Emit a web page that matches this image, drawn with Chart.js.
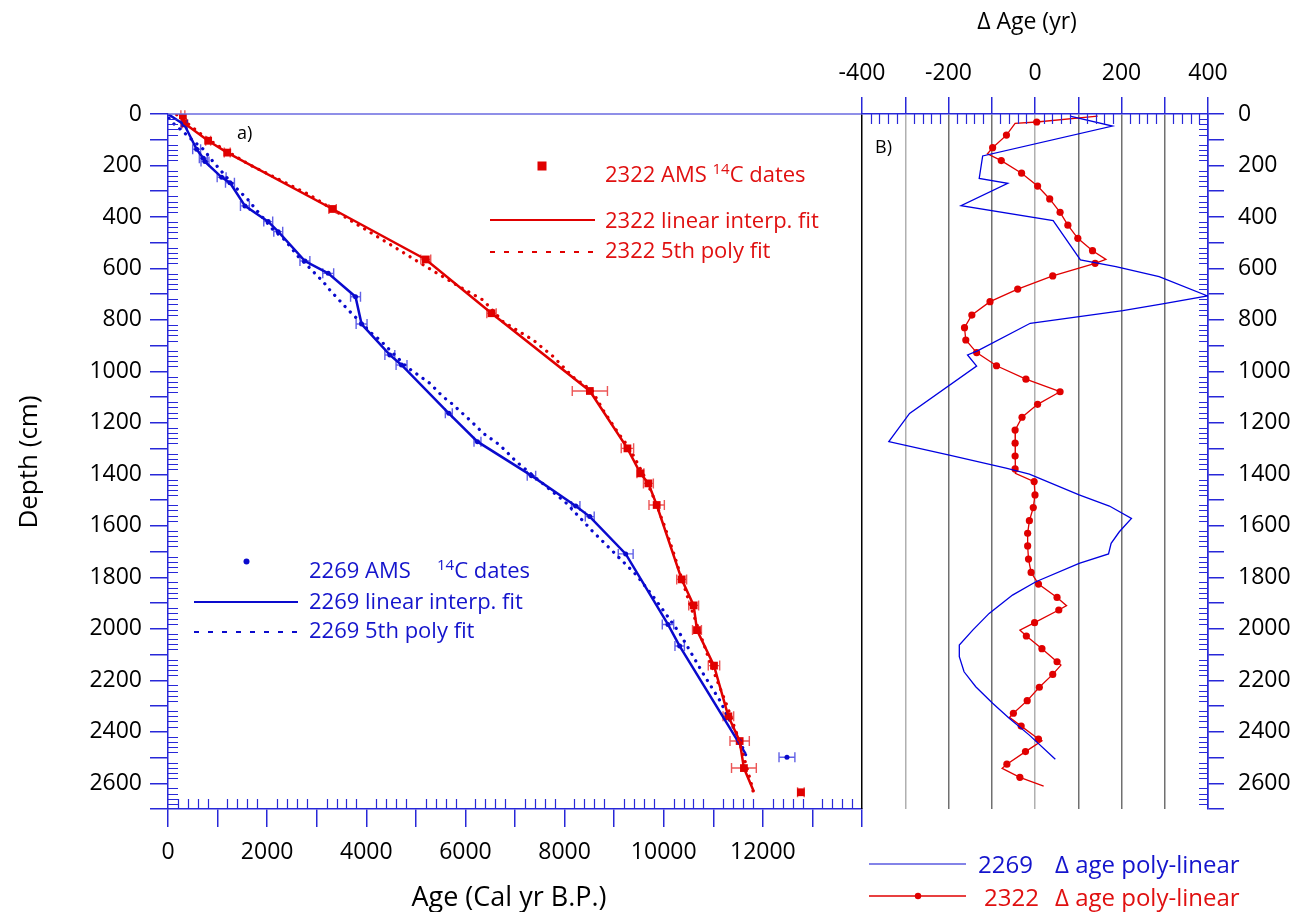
<!DOCTYPE html>
<html>
<head>
<meta charset="utf-8">
<script src="https://cdn.jsdelivr.net/npm/chart.js@4.4.0/dist/chart.umd.min.js"></script>
<style>
  body { margin: 0; background: #fff; font-family: "Open Sans", sans-serif; }
  #wrap { position: relative; width: 1302px; height: 912px; overflow: hidden; }
  canvas, svg { position: absolute; left: 0; top: 0; }
  .t { position: absolute; white-space: pre; line-height: 1; }
  .red { color: #e01010; font-size: 22px; }
  .blue { color: #1414cc; font-size: 22px; }
  sup { font-size: 15px; vertical-align: 8px; line-height: 0; }
</style>
</head>
<body>
<div id="wrap">
  <canvas id="ageChart" width="1302" height="912"></canvas>
  <canvas id="deltaChart" width="1302" height="912"></canvas>

  <!-- legend keys -->
  <svg width="1302" height="912">
    <rect x="537.5" y="161.5" width="9" height="9" fill="#e00000"/>
    <line x1="490" y1="220" x2="595" y2="220" stroke="#e00000" stroke-width="2"/>
    <line x1="490" y1="252" x2="595" y2="252" stroke="#e00000" stroke-width="2" stroke-dasharray="5 9"/>
    <circle cx="246.5" cy="561.5" r="3" fill="#0a0acd"/>
    <line x1="194" y1="602" x2="298" y2="602" stroke="#0a0acd" stroke-width="2"/>
    <line x1="194" y1="632" x2="298" y2="632" stroke="#0a0acd" stroke-width="2" stroke-dasharray="5 9"/>
    <line x1="869" y1="864" x2="966" y2="864" stroke="#5a5ae0" stroke-width="1.3"/>
    <line x1="869" y1="896" x2="966" y2="896" stroke="#e00000" stroke-width="1.3"/>
    <circle cx="918" cy="896" r="3.2" fill="#e00000"/>
  </svg>

  <div class="t red" style="left:605px;top:162px">2322 AMS <sup>14</sup>C dates</div>
  <div class="t red" style="left:605px;top:208px">2322 linear interp. fit</div>
  <div class="t red" style="left:605px;top:238px">2322 5th poly fit</div>

  <div class="t blue" style="left:309px;top:558px">2269 AMS</div>
  <div class="t blue" style="left:437px;top:558px"><sup>14</sup>C dates</div>
  <div class="t blue" style="left:309px;top:589px">2269 linear interp. fit</div>
  <div class="t blue" style="left:309px;top:618px">2269 5th poly fit</div>

  <div class="t blue" style="left:978px;top:852px;font-size:24px">2269</div>
  <div class="t blue" style="left:1055px;top:852px;font-size:24px">Δ age poly-linear</div>
  <div class="t red" style="left:984px;top:885px;font-size:24px">2322</div>
  <div class="t red" style="left:1055px;top:885px;font-size:24px">Δ age poly-linear</div>

  <div class="t" style="left:237px;top:123px;font-size:18px">a)</div>
  <div class="t" style="left:875px;top:137px;font-size:18px">B)</div>

  <div class="t" style="left:509px;top:895px;font-size:27px;transform:translate(-50%,-50%)">Age (Cal yr B.P.)</div>
  <div class="t" style="left:27px;top:462px;font-size:26px;transform:translate(-50%,-50%) rotate(-90deg)">Depth (cm)</div>
  <div class="t" style="left:1027px;top:20px;font-size:23px;transform:translate(-50%,-50%)">Δ Age (yr)</div>
</div>

<script>
// ---- core 2322: calibrated AMS 14C dates (age in cal yr BP, depth in cm) ----
var dates2322Age   = [300, 330, 810, 1195, 3320, 5200, 6526, 8510, 9268, 9530, 9691, 9858, 10362, 10604, 10671, 11014, 11304, 11532, 11618, 12767];
var dates2322Depth = [5, 36, 104, 150, 369, 565, 774, 1076, 1299, 1396, 1435, 1519, 1808, 1909, 2005, 2143, 2340, 2436, 2541, 2635];
var dates2322Err   = [40, 40, 50, 60, 75, 100, 95, 355, 125, 70, 100, 155, 100, 100, 90, 115, 107, 195, 250, 67];

// linear interpolation between the dates
var lin2322Age   = [300, 330, 810, 1195, 3320, 5200, 6526, 8510, 9268, 9530, 9691, 9858, 10362, 10604, 10671, 11014, 11304, 11532, 11618, 11820];
var lin2322Depth = [5, 36, 104, 150, 369, 565, 774, 1076, 1299, 1396, 1435, 1519, 1808, 1909, 2005, 2143, 2340, 2436, 2541, 2633];

// 5th order polynomial fit
var poly2322Age   = [175, 645, 982, 1316, 1653, 1990, 2863, 3669, 4340, 5046, 5820, 6357, 6760, 7365, 7774, 8165, 8560, 8776, 9078, 9314, 9590, 9820, 10015, 10190, 10355, 10520, 10700, 10880, 11075, 11280, 11460, 11620, 11765, 11800];
var poly2322Depth = [3, 75, 120, 159, 198, 230, 315, 412, 490, 574, 664, 723, 807, 878, 943, 1021, 1076, 1150, 1238, 1300, 1400, 1500, 1600, 1700, 1800, 1900, 2000, 2100, 2200, 2300, 2400, 2500, 2600, 2630];

// ---- core 2269 ----
var dates2269Age   = [330, 578, 712, 746, 1082, 1250, 1552, 2022, 2224, 2762, 3232, 3783, 3905, 4475, 4711, 5665, 6243, 7332, 8225, 8508, 9233, 10086, 10322, 12486];
var dates2269Depth = [42, 137, 172, 185, 246, 267, 357, 418, 457, 571, 619, 710, 816, 936, 975, 1163, 1273, 1405, 1523, 1564, 1709, 1983, 2067, 2499];
var dates2269Err   = [60, 80, 80, 80, 90, 90, 90, 90, 90, 100, 110, 100, 110, 100, 110, 70, 70, 85, 85, 90, 150, 115, 95, 160];

var lin2269Age   = [0, 330, 578, 712, 746, 1082, 1250, 1552, 2022, 2224, 2762, 3232, 3783, 3905, 4475, 4711, 5665, 6243, 7332, 8225, 8508, 9233, 10086, 10322, 11650];
var lin2269Depth = [0, 42, 137, 172, 185, 246, 267, 357, 418, 457, 571, 619, 710, 816, 936, 975, 1163, 1273, 1405, 1523, 1564, 1709, 1983, 2067, 2485];

var poly2269Age   = [20, 141, 308, 444, 732, 847, 1083, 1316, 1619, 1754, 2091, 2359, 2627, 2863, 3131, 3266, 3635, 4107, 4274, 4611, 4812, 5282, 5544, 5719, 6123, 6357, 6693, 7030, 7635, 8038, 8574, 8977, 9449, 9818, 10322, 10792, 11128, 11532, 11667];
var poly2269Depth = [16, 43, 69, 94, 140, 171, 224, 276, 334, 366, 444, 490, 554, 599, 652, 684, 761, 852, 878, 943, 982, 1046, 1098, 1124, 1195, 1240, 1286, 1351, 1448, 1512, 1623, 1700, 1791, 1882, 2017, 2173, 2277, 2432, 2497];

// ---- delta age (linear minus poly), yr ----
var delta2269Depth = [8, 47, 163, 250, 269, 356, 414, 567, 593, 632, 707, 738, 764, 813, 920, 936, 979, 1163, 1273, 1325, 1376, 1399, 1480, 1523, 1571, 1623, 1668, 1709, 1746, 1817, 1869, 1940, 2005, 2063, 2108, 2167, 2225, 2289, 2348, 2413, 2507];
var delta2269      = [81, 179, -121, -129, -63, -171, 42, 105, 187, 287, 399, 295, 203, -11, -133, -156, -135, -290, -338, -198, -67, -13, 102, 172, 223, 195, 176, 170, 102, 2, -52, -106, -144, -175, -175, -164, -137, -98, -59, -13, 47];

// 2322 sampled every ~50 cm
var delta2322Depth = [31, 82, 131, 181, 230, 280, 330, 382, 432, 483, 531, 580, 629, 680, 729, 781, 830, 878, 927, 978, 1030, 1079, 1128, 1178, 1228, 1279, 1329, 1379, 1428, 1480, 1529, 1580, 1629, 1678, 1729, 1781, 1826, 1878, 1927, 1976, 2028, 2077, 2128, 2177, 2227, 2279, 2328, 2378, 2428, 2477, 2526, 2577];
var delta2322      = [4, -66, -98, -78, -31, 6, 34, 58, 76, 99, 133, 139, 41, -40, -104, -146, -163, -160, -135, -89, -21, 58, 6, -30, -46, -46, -46, -46, -2, 0, -4, -13, -17, -17, -15, -9, 8, 51, 55, -1, -20, 16, 51, 41, 10, -18, -50, -32, 8, -22, -65, -35];
// 2322 break points at the date depths
var delta2322BreakDepth = [8, 36, 155, 565, 1396, 1910, 2005, 2141, 2344, 2435, 2542, 2611];
var delta2322Break      = [145, -46, -110, 164, -44, 73, -35, 60, -59, 16, -76, 20];

var RED = '#e00000', BLUE = '#0a0acd', AXIS = '#2828d8';
var FONT = '"Open Sans", sans-serif';
Chart.defaults.font.family = FONT;

function pts(xs, ys) {
  return xs.map(function (v, i) { return { x: v, y: ys[i] }; });
}

// horizontal error bars with end caps
var errorBars = {
  id: 'errorBars',
  beforeDatasetDraw: function (chart, args) {
    var ds = chart.data.datasets[args.index];
    if (!ds.xErr) return;
    var ctx = chart.ctx, xs = chart.scales.x;
    ctx.save();
    ctx.strokeStyle = ds.errColor;
    ctx.lineWidth = 1.4;
    args.meta.data.forEach(function (pt, i) {
      var x0 = xs.getPixelForValue(ds.data[i].x - ds.xErr[i]);
      var x1 = xs.getPixelForValue(ds.data[i].x + ds.xErr[i]);
      ctx.beginPath();
      ctx.moveTo(x0, pt.y); ctx.lineTo(x1, pt.y);
      ctx.moveTo(x0, pt.y - 5); ctx.lineTo(x0, pt.y + 5);
      ctx.moveTo(x1, pt.y - 5); ctx.lineTo(x1, pt.y + 5);
      ctx.stroke();
    });
    ctx.restore();
  }
};

// small ticks pointing into the plot, plus an optional frame line on top
var minorTicks = {
  id: 'minorTicks',
  afterDraw: function (chart, args, opts) {
    var ctx = chart.ctx, a = chart.chartArea;
    ctx.save();
    ctx.strokeStyle = AXIS;
    ctx.lineWidth = 1.2;
    ctx.beginPath();
    (opts.marks || []).forEach(function (m) {
      var s = chart.scales[m.scale];
      for (var v = s.min; v <= s.max; v += m.step) {
        if (v % m.skip === 0) continue;
        var p = Math.round(s.getPixelForValue(v)) + 0.5;
        if (m.side === 'left') { ctx.moveTo(a.left, p); ctx.lineTo(a.left + m.len, p); }
        if (m.side === 'right') { ctx.moveTo(a.right, p); ctx.lineTo(a.right - m.len, p); }
        if (m.side === 'bottom') { ctx.moveTo(p, a.bottom); ctx.lineTo(p, a.bottom - m.len); }
        if (m.side === 'top') { ctx.moveTo(p, a.top); ctx.lineTo(p, a.top + m.len); }
      }
    });
    ctx.stroke();
    if (opts.topLine) {
      ctx.strokeStyle = '#6a6ae0';
      ctx.lineWidth = 1.5;
      ctx.beginPath();
      ctx.moveTo(a.left, a.top); ctx.lineTo(a.right, a.top);
      ctx.stroke();
    }
    ctx.restore();
  }
};

var tickFont = { size: 23, family: FONT };

// ---- left panel: age-depth ----
new Chart(document.getElementById('ageChart'), {
  type: 'scatter',
  data: {
    datasets: [
      { data: pts(lin2322Age, lin2322Depth), showLine: true, borderColor: RED, borderWidth: 2.5, pointRadius: 0 },
      { data: pts(poly2322Age, poly2322Depth), showLine: true, borderColor: RED, borderWidth: 3.2,
        borderDash: [0.1, 7.5], borderCapStyle: 'round', pointRadius: 0 },
      { data: pts(lin2269Age, lin2269Depth), showLine: true, borderColor: BLUE, borderWidth: 2.5, pointRadius: 0 },
      { data: pts(poly2269Age, poly2269Depth), showLine: true, borderColor: BLUE, borderWidth: 3.2,
        borderDash: [0.1, 7.5], borderCapStyle: 'round', pointRadius: 0 },
      { data: pts(dates2269Age, dates2269Depth), xErr: dates2269Err, errColor: 'rgba(30,30,220,0.7)',
        pointStyle: 'circle', pointRadius: 2.5, backgroundColor: BLUE, borderWidth: 0 },
      { data: pts(dates2322Age, dates2322Depth), xErr: dates2322Err, errColor: 'rgba(230,30,30,0.75)',
        pointStyle: 'rect', pointRadius: 5.5, backgroundColor: RED, borderWidth: 0 }
    ]
  },
  options: {
    responsive: false,
    animation: false,
    events: [],
    layout: { padding: { top: 114, right: 440, left: 0, bottom: 0 } },
    plugins: {
      legend: { display: false },
      tooltip: { enabled: false },
      minorTicks: {
        topLine: true,
        marks: [
          { scale: 'y', step: 20, skip: 100, side: 'left', len: 10 },
          { scale: 'x', step: 200, skip: 1000, side: 'bottom', len: 10 }
        ]
      }
    },
    scales: {
      x: {
        type: 'linear', min: 0, max: 14000,
        afterFit: function (s) { s.height = 103; },
        ticks: { stepSize: 1000, autoSkip: false, maxRotation: 0, minRotation: 0, color: '#000', font: tickFont, padding: 12,
          callback: function (v) { return (v % 2000 === 0 && v < 14000) ? String(v) : ''; } },
        grid: { drawOnChartArea: false, tickLength: 18, color: AXIS, lineWidth: 1.5 },
        border: { color: AXIS, width: 1.5 }
      },
      y: {
        type: 'linear', reverse: true, min: 0, max: 2700,
        afterFit: function (s) { s.width = 168; },
        ticks: { stepSize: 100, autoSkip: false, color: '#000', font: tickFont, padding: 8,
          callback: function (v) { return v % 200 === 0 ? String(v) : ''; } },
        grid: { drawOnChartArea: false, tickLength: 18, color: AXIS, lineWidth: 1.5 },
        border: { color: AXIS, width: 1.5 }
      }
    }
  },
  plugins: [errorBars, minorTicks]
});

// ---- right panel: delta age ----
var line2322 = pts(delta2322, delta2322Depth).concat(pts(delta2322Break, delta2322BreakDepth))
  .sort(function (p, q) { return p.y - q.y; });

function gridColour(ctx) {
  var v = ctx.tick.value;
  if (v === -400) return '#000';
  if (v === 400) return AXIS;
  if (v === -300 || v === 0) return '#b0b0b0';
  return '#707070';
}

new Chart(document.getElementById('deltaChart'), {
  type: 'scatter',
  data: {
    datasets: [
      { data: pts(delta2269, delta2269Depth), showLine: true, borderColor: '#0000e0', borderWidth: 1.3, pointRadius: 0 },
      { data: line2322, showLine: true, borderColor: RED, borderWidth: 1.3, pointRadius: 0 },
      { data: pts(delta2322, delta2322Depth), showLine: false, pointRadius: 3.6, backgroundColor: RED, borderWidth: 0 }
    ]
  },
  options: {
    responsive: false,
    animation: false,
    events: [],
    layout: { padding: { top: 0, right: 0, left: 862, bottom: 103 } },
    plugins: {
      legend: { display: false },
      tooltip: { enabled: false },
      minorTicks: {
        marks: [
          { scale: 'x', step: 20, skip: 100, side: 'top', len: 10 },
          { scale: 'y', step: 20, skip: 100, side: 'right', len: 9 }
        ]
      }
    },
    scales: {
      x: {
        type: 'linear', position: 'top', min: -400, max: 400,
        afterFit: function (s) { s.height = 114; },
        ticks: { stepSize: 100, autoSkip: false, maxRotation: 0, minRotation: 0, color: '#000', font: tickFont, padding: 10,
          callback: function (v) { return v % 200 === 0 ? String(v) : ''; } },
        grid: { color: gridColour, tickColor: AXIS, tickLength: 17, lineWidth: 1.5 },
        border: { color: AXIS, width: 1.5 }
      },
      y: {
        type: 'linear', position: 'right', reverse: true, min: 0, max: 2700,
        afterFit: function (s) { s.width = 94; },
        ticks: { stepSize: 100, autoSkip: false, color: '#000', font: tickFont, padding: 14,
          callback: function (v) { return v % 200 === 0 ? String(v) : ''; } },
        grid: { drawOnChartArea: false, tickLength: 16, color: AXIS, lineWidth: 1.5 },
        border: { color: AXIS, width: 1.5 }
      }
    }
  },
  plugins: [minorTicks]
});
</script>
</body>
</html>
